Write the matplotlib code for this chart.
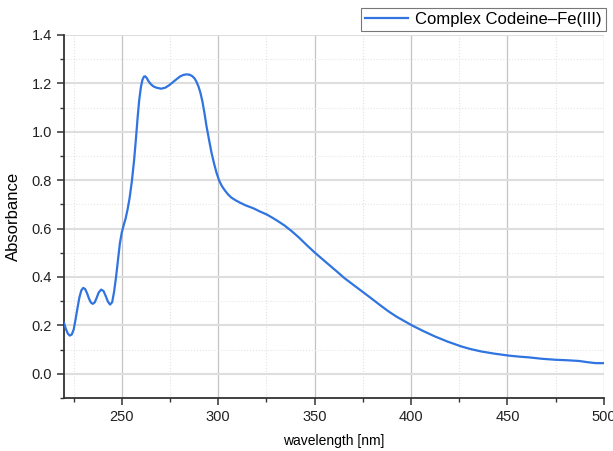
import numpy as np
import matplotlib.pyplot as plt
from matplotlib.ticker import MultipleLocator

plt.rcParams['font.family'] = ['Liberation Sans', 'DejaVu Sans']

# UV-Vis spectrum of the codeine-Fe(III) complex
wavelength = [220.0, 221.0, 222.0, 223.0, 224.0, 225.0, 226.0, 227.0, 228.0, 229.0,
              230.0, 231.0, 232.0, 233.0, 234.0, 235.0, 236.0, 237.0, 238.0, 239.3,
              240.5, 241.6, 242.8, 243.9, 245.0, 246.0, 247.0, 248.0, 249.0, 250.0,
              251.0, 252.0, 253.0, 254.0, 255.2, 256.4, 257.3, 258.2, 259.0, 259.9,
              260.7, 261.5, 262.2, 263.0, 264.0, 265.1, 266.5, 268.0, 270.4, 272.5,
              274.5, 276.5, 278.5, 280.3, 282.0, 283.4, 285.0, 286.5, 287.8, 288.8,
              289.8, 290.8, 291.8, 292.8, 293.9, 295.2, 296.5, 297.8, 299.1, 300.4,
              301.8, 303.4, 305.0, 306.8, 309.0, 311.3, 314.5, 318.2, 321.5, 325.2,
              328.5, 331.5, 334.5, 338.0, 342.0, 346.0, 350.2, 354.0, 357.5, 361.5,
              365.2, 370.5, 375.7, 380.0, 384.4, 388.5, 392.5, 396.5, 400.5, 406.0,
              412.2, 419.0, 426.1, 431.0, 436.6, 443.5, 450.9, 456.0, 461.0, 468.0,
              475.0, 481.0, 487.2, 491.5, 495.9, 500.0]
absorbance = [0.210, 0.185, 0.166, 0.158, 0.162, 0.182, 0.225, 0.272, 0.316, 0.345,
              0.355, 0.350, 0.332, 0.310, 0.294, 0.289, 0.296, 0.315, 0.336, 0.348,
              0.342, 0.322, 0.298, 0.286, 0.296, 0.340, 0.400, 0.470, 0.540, 0.585,
              0.615, 0.643, 0.680, 0.725, 0.795, 0.886, 0.969, 1.060, 1.130, 1.185,
              1.215, 1.228, 1.229, 1.221, 1.207, 1.196, 1.187, 1.182, 1.178, 1.182,
              1.192, 1.205, 1.218, 1.229, 1.235, 1.237, 1.236, 1.230, 1.220, 1.205,
              1.186, 1.160, 1.125, 1.080, 1.024, 0.968, 0.914, 0.870, 0.831, 0.800,
              0.777, 0.758, 0.742, 0.728, 0.717, 0.707, 0.695, 0.684, 0.671, 0.658,
              0.643, 0.628, 0.612, 0.590, 0.562, 0.531, 0.500, 0.474, 0.450, 0.423,
              0.397, 0.365, 0.334, 0.308, 0.281, 0.257, 0.236, 0.218, 0.200, 0.178,
              0.155, 0.133, 0.113, 0.102, 0.092, 0.083, 0.075, 0.071, 0.068, 0.062,
              0.058, 0.056, 0.053, 0.048, 0.044, 0.044]

fig = plt.figure(figsize=(6.13, 4.51), dpi=100)
ax = fig.add_axes([0.1044, 0.1175, 0.8806, 0.805])

line, = ax.plot(wavelength, absorbance, color='#2f74e0', lw=1.6,
                label='Complex Codeine\u2013Fe(III)', zorder=3)

ax.set_xlim(220, 500)
ax.set_ylim(-0.1, 1.4)
ax.xaxis.set_major_locator(MultipleLocator(50))
ax.xaxis.set_minor_locator(MultipleLocator(25))
ax.yaxis.set_major_locator(MultipleLocator(0.2))
ax.yaxis.set_minor_locator(MultipleLocator(0.1))

# grid: solid majors, dotted minors
for x in np.arange(250, 501, 50):
    ax.axvline(x, color='#c4c4c4', lw=0.9, zorder=1)
for x in np.arange(225, 501, 50):
    ax.axvline(x, color='#e2e2e2', lw=0.8, ls=':', zorder=1)
for y in np.arange(0.0, 1.41, 0.2):
    ax.axhline(y, color='#dedede', lw=1.5, zorder=1)
for y in np.arange(0.1, 1.41, 0.2):
    ax.axhline(y, color='#e6e6e6', lw=0.8, ls=':', zorder=1)

ax.yaxis.set_major_formatter(plt.FuncFormatter(lambda v, p: f'{v:.1f}'))

for s in ['top', 'right']:
    ax.spines[s].set_visible(False)
for s in ['left', 'bottom']:
    ax.spines[s].set_color('#333333')
    ax.spines[s].set_linewidth(1.3)

ax.tick_params(which='major', direction='out', length=5, width=1.1,
               color='#333333', labelsize=10.5, labelcolor='#222222')
ax.tick_params(which='minor', direction='out', length=3, width=1.0, color='#333333')

ax.set_xlabel('wavelength [nm]', fontsize=10, labelpad=7)
ax.set_ylabel('Absorbance', fontsize=12, labelpad=8)

leg = fig.legend(handles=[line], loc='upper right', bbox_to_anchor=(0.988, 0.982),
                 fontsize=12, frameon=True, fancybox=False, handlelength=2.6,
                 borderpad=0.25, handletextpad=0.4, borderaxespad=0)
leg.get_frame().set_edgecolor('#555555')
leg.get_frame().set_linewidth(0.8)

fig.savefig('out.png', dpi=100)
